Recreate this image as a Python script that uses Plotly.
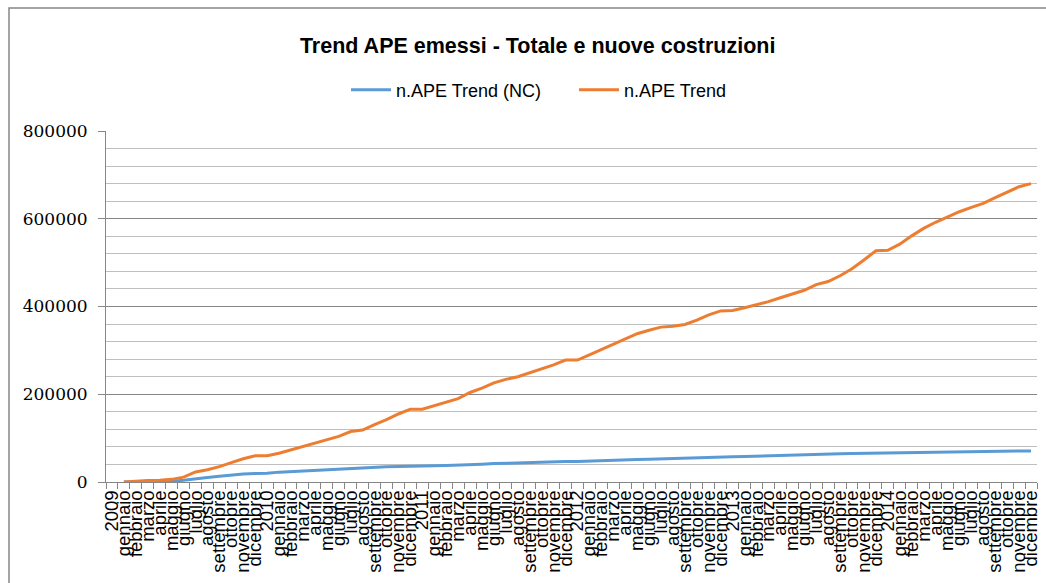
import plotly.graph_objects as go

mesi = ["gennaio", "febbraio", "marzo", "aprile", "maggio", "giugno", "luglio",
        "agosto", "settembre", "ottobre", "novembre", "dicembre"]
anni = ["2009", "2010", "2011", "2012", "2013", "2014"]

categorie = []
for a in anni:
    categorie.append(a)
    categorie.extend(mesi)

ape_totale = [None, 0, 2000, 3500, 4000, 6000, 11000, 23000, 28000, 35000, 44000, 53000, 60000,
              60000, 65500, 73000, 80000, 87500, 96000, 104000, 115000, 118500, 131000, 142000, 155000, 166000,
              166000, 174000, 183000, 190000, 204000, 214000, 226000, 234000, 240000, 249000, 257000, 267000, 278000,
              278000, 290000, 302000, 314000, 327000, 338000, 346000, 353000, 355000, 359000, 369000, 381000, 390000,
              391000, 397000, 404000, 411000, 420000, 429000, 437000, 450000, 457000, 470000, 486000, 506000, 527000,
              528000, 542000, 561000, 578000, 592000, 604000, 616000, 626000, 635000, 648000, 660000, 673000, 680000]

ape_nc = [None, 0, 0, 0, 500, 1500, 4000, 8000, 10500, 13000, 16000, 18000, 19500,
          20000, 22500, 24000, 25500, 27000, 28500, 30000, 31500, 32500, 33500, 34500, 35500, 36500,
          37000, 37000, 37500, 38000, 38500, 40500, 42000, 43000, 44000, 45000, 45500, 46000, 46500,
          47000, 47500, 48500, 49000, 50000, 51000, 52000, 53000, 54000, 55000, 55500, 56500, 57000,
          57500, 58000, 59000, 59500, 60500, 61500, 62500, 63000, 64000, 64500, 65000, 65500, 66000,
          66500, 67000, 67500, 68000, 68500, 69000, 69000, 69500, 69500, 70000, 70000, 70500, 70500]

x = list(range(len(categorie)))

fig = go.Figure()
fig.add_trace(go.Scatter(x=x, y=ape_nc, mode="lines", name="n.APE Trend (NC)",
                         line=dict(color="#5b9bd5", width=3)))
fig.add_trace(go.Scatter(x=x, y=ape_totale, mode="lines", name="n.APE Trend",
                         line=dict(color="#ed7d31", width=3)))

fig.update_layout(
    width=1046, height=583,
    margin=dict(l=106, r=9, t=131, b=101, autoexpand=False),
    paper_bgcolor="white", plot_bgcolor="white",
    title=dict(text="<b>Trend APE emessi - Totale e nuove costruzioni</b>",
               x=0.514, xanchor="center", y=1 - 45 / 583, yanchor="middle",
               font=dict(family="Liberation Sans", size=21.5, color="#000000")),
    legend=dict(orientation="h", x=346 / 1046, xanchor="left", y=1 - 90 / 583, yanchor="middle",
                yref="container", xref="container",
                font=dict(family="Liberation Sans", size=18, color="#000000"),
                itemwidth=40, entrywidth=225 - 52, traceorder="normal"),
    showlegend=True,
)

fig.update_xaxes(
    range=[-0.5, len(categorie) - 0.5], automargin=False,
    tickmode="array", tickvals=x, ticktext=categorie, tickangle=-90,
    ticks="", showgrid=False, zeroline=False,
    tickfont=dict(family="Liberation Sans", size=18.5, color="#000000"),
    showline=True, linecolor="#868686", linewidth=1,
    minor=dict(tickmode="array", tickvals=[i + 0.5 for i in x] + [-0.5],
               ticks="outside", ticklen=6, tickcolor="#868686", showgrid=False),
)

fig.update_yaxes(
    range=[0, 800000], dtick=200000, tickformat="d", automargin=False,
    ticks="outside", ticklen=7, tickcolor="#868686", ticklabelstandoff=7,
    showgrid=True, gridcolor="#868686", gridwidth=1,
    minor=dict(dtick=40000, showgrid=True, gridcolor="#bfbfbf", gridwidth=1, ticks=""),
    zeroline=False, showline=True, linecolor="#868686", linewidth=1,
    tickfont=dict(family="DejaVu Serif", size=17, color="#000000"),
)

fig.add_shape(type="rect", xref="paper", yref="paper",
              x0=-97 / 931, x1=1 + 30 / 931, y0=-120 / 351, y1=1 + 123 / 351,
              line=dict(color="#868686", width=1.5), fillcolor="rgba(0,0,0,0)", layer="below")

fig.write_html("out.html", config={"displayModeBar": False},
               post_script="document.body.style.margin='0';")
